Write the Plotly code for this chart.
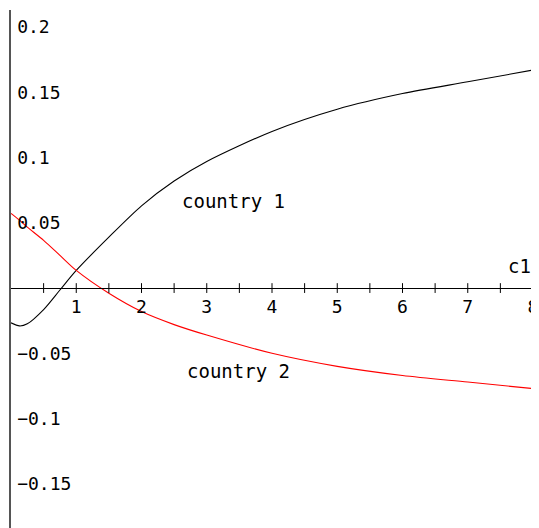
import plotly.graph_objects as go

# data
c1 = [0, 0.13, 0.25, 0.5, 0.75, 1, 1.5, 2, 2.5, 3, 4, 5, 6, 7, 8]
country1 = [-0.0266, -0.029, -0.0274, -0.0165, -0.0015, 0.0135, 0.039, 0.063, 0.082,
            0.097, 0.120, 0.137, 0.149, 0.158, 0.167]
country2 = [0.0572, 0.052, 0.0467, 0.0365, 0.025, 0.0135, -0.004, -0.018, -0.028,
            -0.036, -0.050, -0.060, -0.067, -0.072, -0.077]

x_tick_vals = [1, 2, 3, 4, 5, 6, 7, 8]
x_tick_text = ["1", "2", "3", "4", "5", "6", "7", "8"]
x_minor_marks = [0.5, 1, 1.5, 2, 2.5, 3, 3.5, 4, 4.5, 5, 5.5, 6, 6.5, 7, 7.5, 8]
y_tick_vals = [0.2, 0.15, 0.1, 0.05, -0.05, -0.1, -0.15]
y_tick_text = ["0.2", "0.15", "0.1", "0.05", "\u22120.05", "\u22120.1", "\u22120.15"]

FONT = "DejaVu Sans Mono"

fig = go.Figure()
fig.add_trace(go.Scatter(x=c1, y=country1, mode="lines",
                         line=dict(color="#000000", width=1.1, shape="spline", smoothing=0.8),
                         hoverinfo="skip", showlegend=False))
fig.add_trace(go.Scatter(x=c1, y=country2, mode="lines",
                         line=dict(color="#ff0000", width=1.1, shape="spline", smoothing=0.8),
                         hoverinfo="skip", showlegend=False))
# tick marks crossing the horizontal axis
fig.add_trace(go.Scatter(x=x_minor_marks, y=[0] * len(x_minor_marks), mode="markers",
                         marker=dict(symbol="line-ns", size=7,
                                     line=dict(color="#000000", width=1)),
                         hoverinfo="skip", showlegend=False, cliponaxis=False))

fig.add_annotation(x=2.59, y=0.0666, text="country 1", showarrow=False,
                   xanchor="left", yanchor="middle",
                   font=dict(family=FONT, size=19, color="#000000"))
fig.add_annotation(x=2.67, y=-0.0636, text="country 2", showarrow=False,
                   xanchor="left", yanchor="middle",
                   font=dict(family=FONT, size=19, color="#000000"))
fig.add_annotation(x=8.0, y=0.0169, text="c1", showarrow=False,
                   xanchor="right", yanchor="middle",
                   font=dict(family=FONT, size=19, color="#000000"))

# the page body adds an 8px margin, so the figure is sized to fit the window
fig.update_layout(
    width=531, height=520,
    margin=dict(l=3, r=0, t=2, b=0),
    paper_bgcolor="white", plot_bgcolor="white",
    xaxis=dict(range=[0, 8.092], anchor="free", position=0.4633, automargin=False,
               showgrid=False, zeroline=False, showline=True,
               linecolor="#000000", linewidth=1,
               tickvals=x_tick_vals, ticktext=x_tick_text, ticks="",
               ticklabelstandoff=2, ticklabeloverflow="allow",
               tickfont=dict(family=FONT, size=18, color="#000000")),
    yaxis=dict(range=[-0.1838, 0.213], showgrid=False, zeroline=False, automargin=False,
               showline=True, linecolor="#555555", linewidth=1.5,
               tickvals=y_tick_vals, ticktext=y_tick_text, ticks="",
               ticklabelposition="inside", ticklabelstandoff=7,
               ticklabeloverflow="allow",
               tickfont=dict(family=FONT, size=18, color="#000000")),
)

fig.write_html("out.html")
